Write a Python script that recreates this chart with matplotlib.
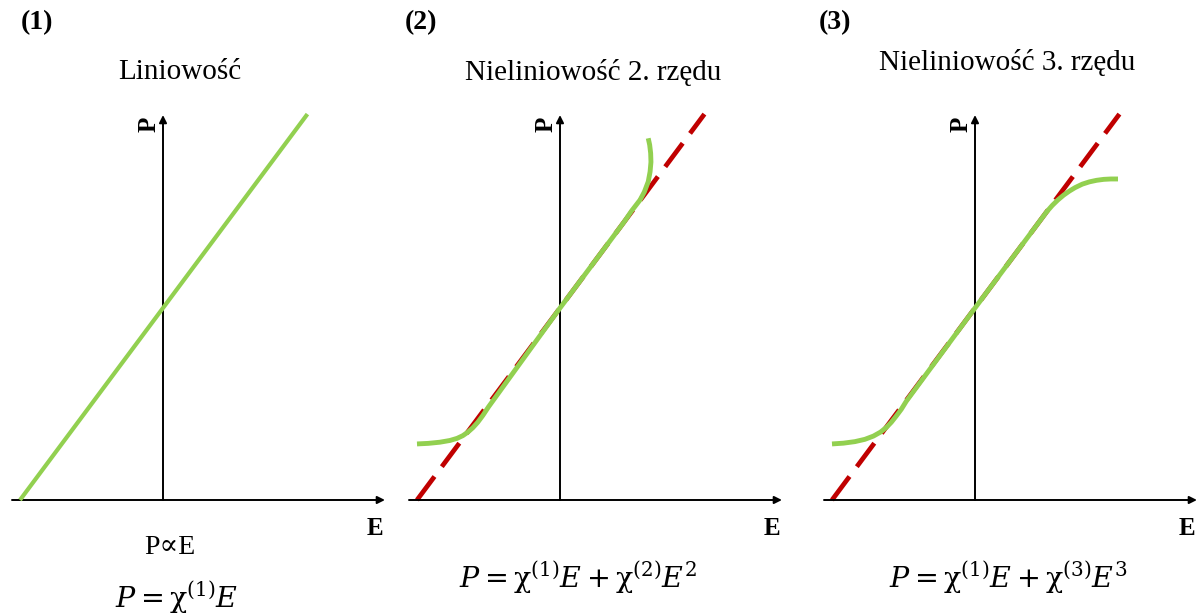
import matplotlib
matplotlib.use("Agg")
import matplotlib.pyplot as plt

plt.rcParams['font.family'] = ['Liberation Serif', 'DejaVu Serif']
plt.rcParams['mathtext.fontset'] = 'dejavuserif'

# ---------------- data (E, P in panel units) ----------------
titles = ["Liniowość", "Nieliniowość 2. rzędu", "Nieliniowość 3. rzędu"]
labels = ["(1)", "(2)", "(3)"]
equations = [r"$P = \mathrm{\chi}^{(1)}E$",
             r"$P = \mathrm{\chi}^{(1)}E + \mathrm{\chi}^{(2)}E^2$",
             r"$P = \mathrm{\chi}^{(1)}E + \mathrm{\chi}^{(3)}E^3$"]

# linear response P = chi(1) E
lin_E = [-1.0, 1.01]
lin_P = [-1.0, 1.01]

# second-order response
e2_E = [-1.00, -0.92, -0.84, -0.77, -0.72, -0.68, -0.645, -0.61, -0.575, -0.54, -0.50,
        0.0, 0.45, 0.50, 0.56, 0.59, 0.617, 0.63, 0.636, 0.634, 0.627, 0.617]
e2_P = [-0.708, -0.705, -0.699, -0.690, -0.679, -0.665, -0.647, -0.624, -0.595, -0.56, -0.515,
        0.0, 0.45, 0.505, 0.563, 0.605, 0.658, 0.71, 0.76, 0.806, 0.85, 0.884]

# third-order response
e3_E = [-1.00, -0.92, -0.84, -0.77, -0.71, -0.66, -0.62, -0.585, -0.55, -0.515, -0.48,
        0.0, 0.50, 0.54, 0.58, 0.62, 0.66, 0.70, 0.75, 0.80, 0.85, 0.90, 0.95, 1.00]
e3_P = [-0.708, -0.704, -0.696, -0.684, -0.667, -0.646, -0.622, -0.595, -0.562, -0.527, -0.485,
        0.0, 0.50, 0.534, 0.563, 0.588, 0.609, 0.627, 0.645, 0.657, 0.665, 0.670, 0.672, 0.672]

# axes extents
h_axis = [-1.056, 1.552]   # E range of horizontal arrow (at P = -1)
v_axis = [-1.0, 1.005]     # P range of vertical arrow (at E = 0)

GREEN = '#92D050'
RED = '#C00000'

W, H = 1203, 616
fig = plt.figure(figsize=(W / 100, H / 100), dpi=100)

origins = [163, 560, 975]      # x pixel of E=0
y0 = 308                       # y pixel of P=0
ex, py = 143.0, 192.0          # px per unit
xlim = (-1.1, 1.58)
ylim = (-1.5, 1.6)

axes = []
for x0 in origins:
    left = (x0 + xlim[0] * ex) / W
    width = (xlim[1] - xlim[0]) * ex / W
    bottom = (H - (y0 - ylim[0] * py)) / H
    height = (ylim[1] - ylim[0]) * py / H
    ax = fig.add_axes([left, bottom, width, height])
    ax.set_xlim(*xlim)
    ax.set_ylim(*ylim)
    ax.axis('off')
    axes.append(ax)

for ax in axes:
    ax.annotate('', xy=(h_axis[1], -1.0), xytext=(h_axis[0], -1.0),
                arrowprops=dict(arrowstyle='-|>', lw=1.4, color='black',
                                mutation_scale=11, shrinkA=0, shrinkB=0),
                annotation_clip=False)
    ax.annotate('', xy=(0, v_axis[1]), xytext=(0, v_axis[0]),
                arrowprops=dict(arrowstyle='-|>', lw=1.4, color='black',
                                mutation_scale=11, shrinkA=0, shrinkB=0),
                annotation_clip=False)
    ax.text(-0.1, 0.955, 'P', rotation=90, fontsize=18, fontweight='bold',
            ha='center', va='center')
    ax.text(1.48, -1.15, 'E', fontsize=18, fontweight='bold',
            ha='center', va='center')

axes[0].plot(lin_E, lin_P, color=GREEN, lw=3, solid_capstyle='butt', zorder=3)
for ax in axes[1:]:
    ax.plot(lin_E, lin_P, color=RED, lw=3.4, linestyle=(0, (6.2, 2.6)),
            dash_capstyle='butt', zorder=2)
axes[1].plot(e2_E, e2_P, color=GREEN, lw=3.5, zorder=3, solid_capstyle='butt',
             solid_joinstyle='round')
axes[2].plot(e3_E, e3_P, color=GREEN, lw=3.5, zorder=3, solid_capstyle='butt',
             solid_joinstyle='round')

def ftext(x, y, s, **kw):
    fig.text(x / W, 1 - y / H, s, **kw)

for x, lab in zip([37, 421, 835], labels):
    ftext(x, 23, lab, fontsize=20, fontweight='bold', ha='center', va='center')
for (x, y), t in zip([(180, 72), (593, 72), (1007, 62)], titles):
    ftext(x, y, t, fontsize=21, ha='center', va='center')

ftext(170, 547, 'P∝E', fontsize=20, ha='center', va='center')
for (x, y), eq in zip([(177, 598), (578, 578), (1008, 578)], equations):
    ftext(x, y, eq, fontsize=20.5, ha='center', va='center')

fig.savefig('out.png', dpi=100, facecolor='white')
